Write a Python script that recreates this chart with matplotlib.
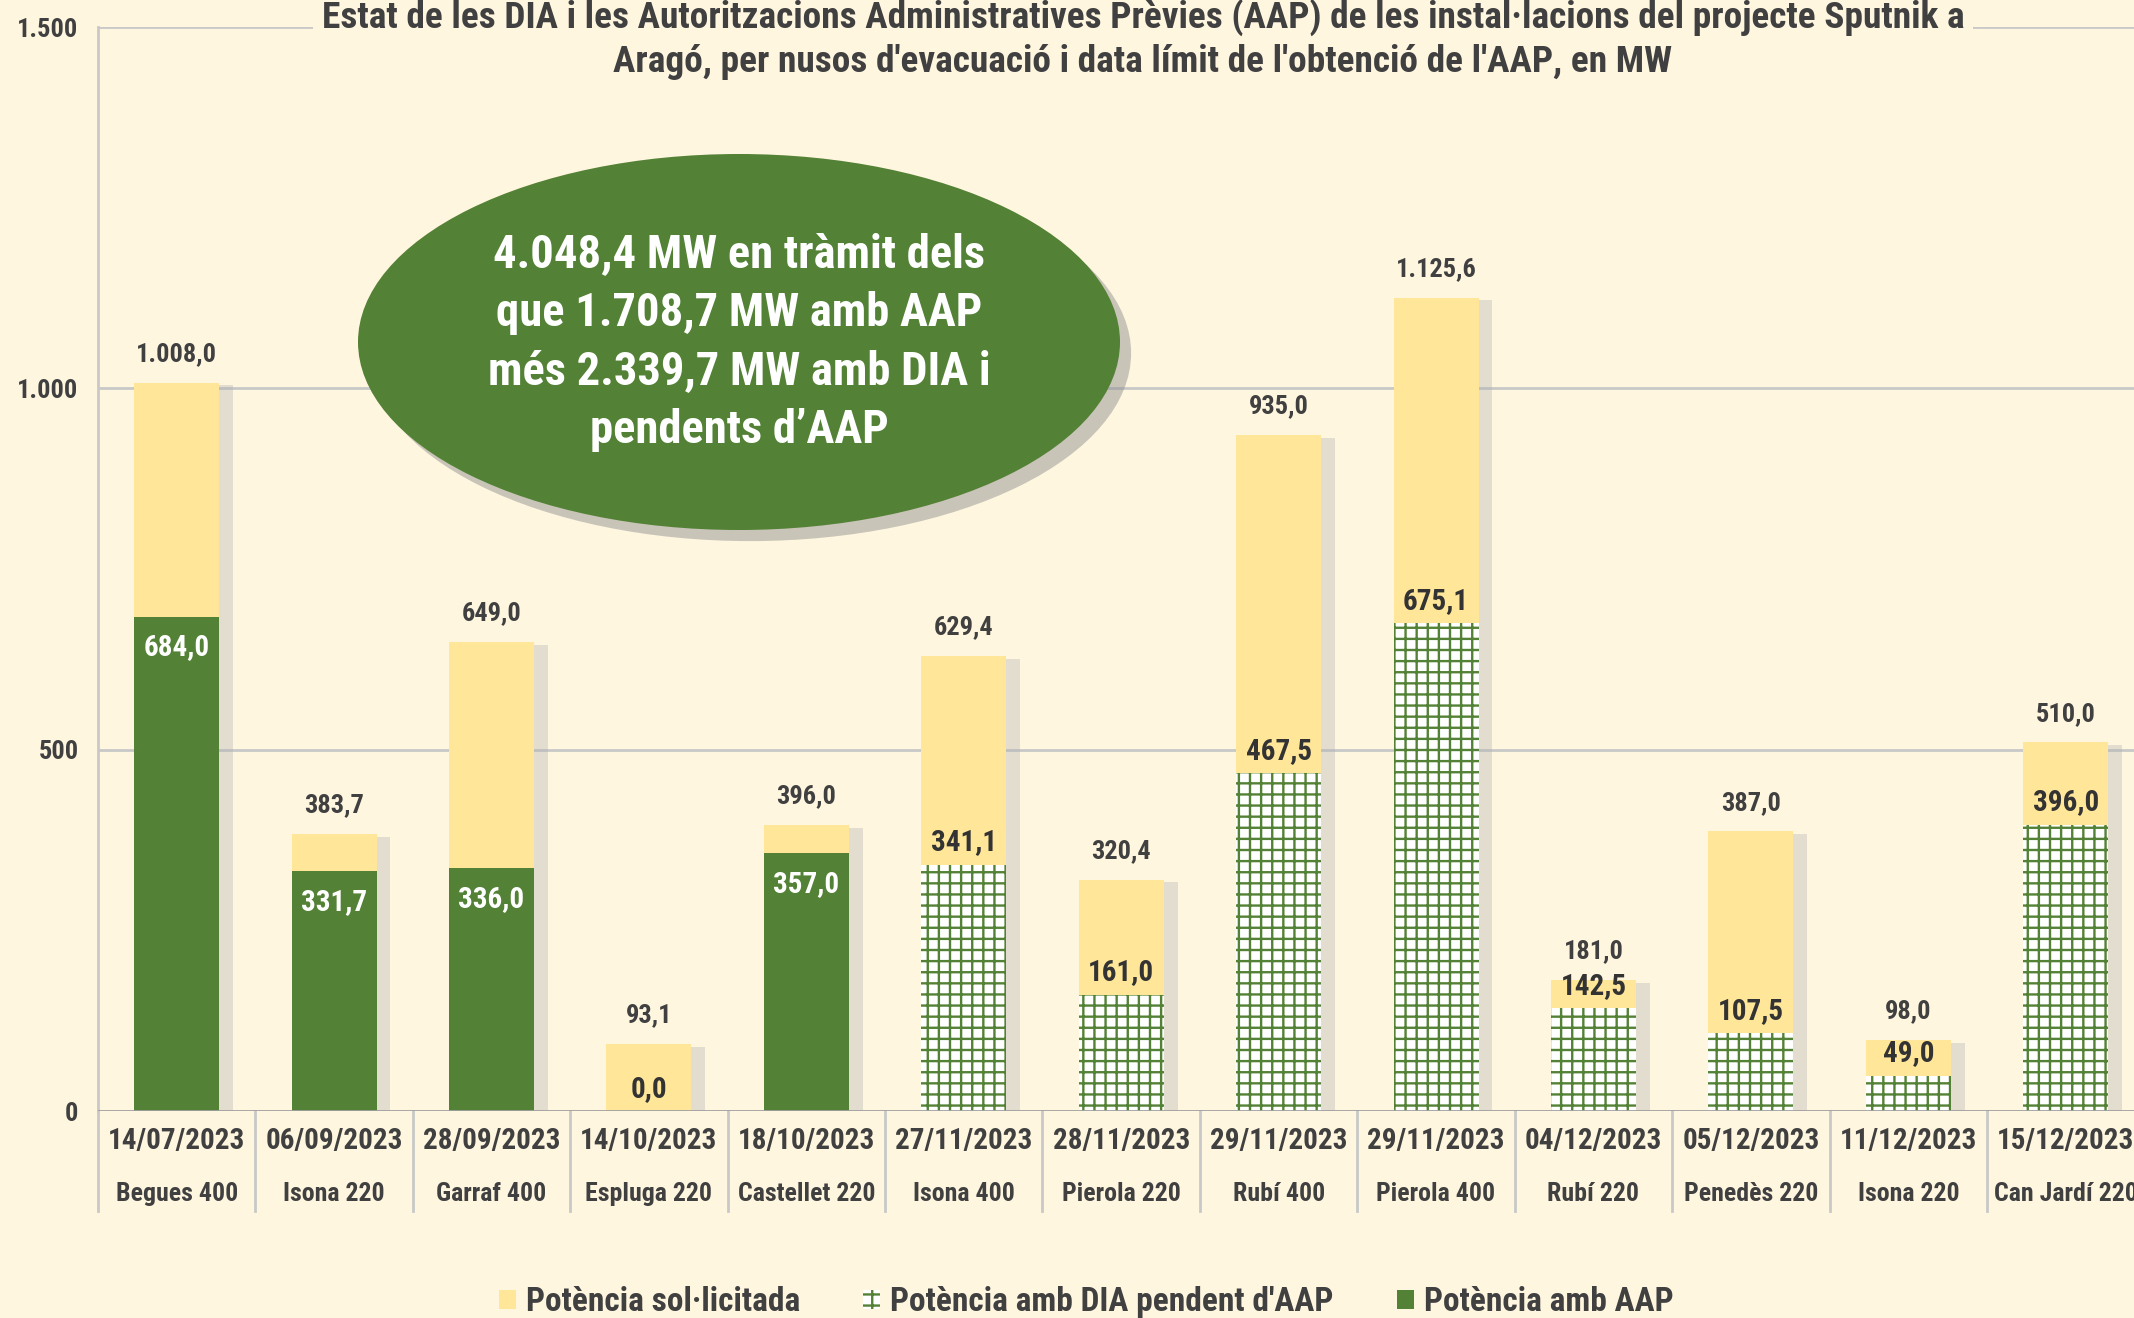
import matplotlib
matplotlib.use("Agg")
import matplotlib.pyplot as plt
import matplotlib.patheffects as pe
from matplotlib.patches import Ellipse, Patch
from matplotlib import font_manager
import matplotlib.transforms as mtransforms

# ---------------- data ----------------
dates = ["14/07/2023", "06/09/2023", "28/09/2023", "14/10/2023", "18/10/2023",
         "27/11/2023", "28/11/2023", "29/11/2023", "29/11/2023", "04/12/2023",
         "05/12/2023", "11/12/2023", "15/12/2023"]
nodes = ["Begues 400", "Isona 220", "Garraf 400", "Espluga 220", "Castellet 220",
         "Isona 400", "Pierola 220", "Rubí 400", "Pierola 400", "Rubí 220",
         "Penedès 220", "Isona 220", "Can Jardí 220"]
solicitada = [1008.0, 383.7, 649.0, 93.1, 396.0, 629.4, 320.4, 935.0, 1125.6,
              181.0, 387.0, 98.0, 510.0]
amb_aap = [684.0, 331.7, 336.0, 0.0, 357.0, 0, 0, 0, 0, 0, 0, 0, 0]
dia_pendent = [0, 0, 0, 0, 0, 341.1, 161.0, 467.5, 675.1, 142.5, 107.5, 49.0, 396.0]
is_aap = [True, True, True, True, True, False, False, False, False, False, False, False, False]

title = ("Estat de les DIA i les Autoritzacions Administratives Prèvies (AAP) de les instal·lacions del projecte Sputnik a\n"
         "Aragó, per nusos d'evacuació i data límit de l'obtenció de l'AAP, en MW")
bubble = "4.048,4 MW en tràmit dels\nque 1.708,7 MW amb AAP\nmés 2.339,7 MW amb DIA i\npendents d’AAP"
legend_labels = ["Potència sol·licitada", "Potència amb DIA pendent d'AAP", "Potència amb AAP"]
yticks = [0, 500, 1000, 1500]
ytick_labels = ["0", "500", "1.000", "1.500"]

def fmt(v):
    s = f"{v:,.1f}"
    return s.replace(",", "X").replace(".", ",").replace("X", ".")

# ---------------- fonts ----------------
def pick(fams):
    for f in fams:
        try:
            font_manager.findfont(f, fallback_to_default=False)
            return f
        except Exception:
            pass
    return "DejaVu Sans"

NARROW = pick(["Liberation Sans Narrow", "Roboto Condensed", "Open Sans Condensed", "Roboto"])
plt.rcParams['font.family'] = [NARROW, 'DejaVu Sans']
plt.rcParams['hatch.linewidth'] = 0.85

BG = "#FFF6E0"
GREEN = "#538135"
YELLOW = "#FFE699"
TXT = "#404040"
GRID = "#C8C8C8"

fig = plt.figure(figsize=(2134 / 200, 1318 / 200), dpi=200, facecolor=BG)
ax = fig.add_axes([0.0459, 0.157, 0.959, 0.8225])
ax.set_facecolor(BG)
n = len(dates)
x = list(range(n))
ax.set_xlim(-0.5, n - 0.5)
ax.set_ylim(0, 1500)

# gridlines
for yv in yticks[1:]:
    ax.axhline(yv, color=GRID, lw=1.0, zorder=0)
ax.axhline(0, color="#A0A0A0", lw=1.0, zorder=4)
for s in ["top", "right", "bottom"]:
    ax.spines[s].set_visible(False)
ax.spines["left"].set_color(GRID)
ax.spines["left"].set_linewidth(1.0)

ax.set_yticks(yticks)
ax.set_yticklabels(ytick_labels, fontsize=9.5, color=TXT, fontweight="bold")
ax.tick_params(axis="y", length=0, pad=7)
ax.set_xticks([])

w = 0.54
shadow = [pe.SimplePatchShadow(offset=(5, -1), shadow_rgbFace="#b0b0b0", alpha=0.35), pe.Normal()]
ax.bar(x, solicitada, width=w, color=YELLOW, edgecolor="none", zorder=2, path_effects=shadow)
aap_vals = [a if f else 0 for a, f in zip(amb_aap, is_aap)]
ax.bar(x, aap_vals, width=w, color=GREEN, edgecolor="none", zorder=3)
ax.bar(x, dia_pendent, width=w, color="white", edgecolor=GREEN, hatch="+++", linewidth=0, zorder=3)

# total labels
for xi, v in zip(x, solicitada):
    ax.annotate(fmt(v), (xi, v), xytext=(0, 6), textcoords="offset points", ha="center", va="bottom",
                fontsize=9.5, color=TXT, fontweight="bold")
# inner labels
for xi, f, a, d in zip(x, is_aap, amb_aap, dia_pendent):
    if f:
        if a > 0:
            ax.annotate(fmt(a), (xi, a), xytext=(0, -6), textcoords="offset points", ha="center", va="top",
                        fontsize=10.5, color="white", fontweight="bold")
        else:
            ax.annotate(fmt(a), (xi, a), xytext=(0, 3), textcoords="offset points", ha="center", va="bottom",
                        fontsize=10.5, color="#333333", fontweight="bold")
    else:
        ax.annotate(fmt(d), (xi, d), xytext=(0, 3), textcoords="offset points", ha="center", va="bottom",
                    fontsize=10.5, color="#333333", fontweight="bold")

# category labels and separators
trans = mtransforms.blended_transform_factory(ax.transData, ax.transAxes)
for xi, dt, nd in zip(x, dates, nodes):
    ax.text(xi, -0.0275, dt, transform=trans, ha="center", va="center", fontsize=10.5, color=TXT, fontweight="bold")
    ax.text(xi, -0.0766, nd, transform=trans, ha="center", va="center", fontsize=9.3, color=TXT, fontweight="bold")
for k in range(n + 1):
    ax.plot([k - 0.5, k - 0.5], [0, -0.092], transform=trans, color=GRID, lw=1.0, clip_on=False)

# title
fig.text(0.5356, 1 - 17 / 1318, title.split("\n")[0], ha="center", va="center", fontsize=13.45, color=TXT,
         fontweight="bold", bbox=dict(facecolor=BG, edgecolor="none", pad=3))
fig.text(0.5356, 1 - 62 / 1318, title.split("\n")[1], ha="center", va="center", fontsize=13.45, color=TXT,
         fontweight="bold")

# bubble
ell = Ellipse((739 / 2134, 1 - 342 / 1318), 762 / 2134, 376 / 1318, transform=fig.transFigure,
              facecolor=GREEN, edgecolor="none", zorder=10,
              path_effects=[pe.SimplePatchShadow(offset=(4, -4), shadow_rgbFace="#888888", alpha=0.45), pe.Normal()])
fig.add_artist(ell)
fig.text(739 / 2134, 1 - 342 / 1318, bubble, ha="center", va="center", fontsize=16.8, color="white",
         fontweight="bold", linespacing=1.42, zorder=11)

# legend
handles = [Patch(facecolor=YELLOW, edgecolor="none"),
           Patch(facecolor="white", edgecolor=GREEN, hatch="+++", linewidth=0),
           Patch(facecolor=GREEN, edgecolor="none")]
leg = fig.legend(handles, legend_labels, loc="center", bbox_to_anchor=(0.509, 0.012), ncol=3, frameon=False,
                 fontsize=12, handlelength=0.5, handleheight=0.5, handletextpad=0.3, columnspacing=1.9)
for t in leg.get_texts():
    t.set_color(TXT)
    t.set_fontweight("bold")

fig.savefig("out.png", dpi=200, facecolor=BG)
